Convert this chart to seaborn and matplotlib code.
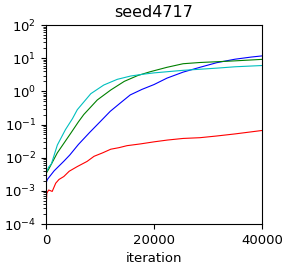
import matplotlib
matplotlib.use("Agg")
import matplotlib.pyplot as plt
import seaborn as sns
import pandas as pd

# iterations and values per series
blue_x = [0, 250, 1500, 3300, 4400, 6000, 8100, 10000, 11900, 13800, 15600, 17800, 20000, 22400, 25400, 28500, 31600, 35000, 38000, 40000]
blue_y = [0.0017, 0.0022, 0.0040, 0.0078, 0.012, 0.025, 0.058, 0.12, 0.25, 0.45, 0.78, 1.15, 1.6, 2.5, 3.8, 5.3, 7.3, 9.3, 10.8, 11.7]

green_x = [0, 500, 2100, 4600, 6000, 7000, 9500, 12000, 14500, 17000, 19300, 22400, 25400, 28500, 31600, 35000, 40000]
green_y = [0.0033, 0.0045, 0.014, 0.055, 0.12, 0.2, 0.55, 1.1, 2.0, 3.0, 3.9, 5.3, 6.8, 7.4, 7.8, 8.3, 9.2]

cyan_x = [0, 500, 1000, 2100, 3600, 4900, 5800, 8300, 10700, 13200, 15700, 18100, 20000, 25400, 31600, 35000, 40000]
cyan_y = [0.0035, 0.0052, 0.0065, 0.024, 0.07, 0.15, 0.28, 0.85, 1.55, 2.3, 2.9, 3.3, 3.6, 4.3, 5.0, 5.5, 6.0]

red_x = [0, 150, 500, 1150, 1800, 2400, 3300, 4300, 5800, 7600, 8900, 10500, 12000, 13500, 15000, 17500, 20000, 22500, 25400, 28500, 31600, 35000, 40000]
red_y = [0.00025, 0.00085, 0.00106, 0.00096, 0.0017, 0.0022, 0.0027, 0.0039, 0.0054, 0.0077, 0.011, 0.014, 0.018, 0.02, 0.023, 0.026, 0.030, 0.034, 0.038, 0.040, 0.045, 0.052, 0.066]

series = [("blue", blue_x, blue_y, "b"),
          ("green", green_x, green_y, "g"),
          ("cyan", cyan_x, cyan_y, "c"),
          ("red", red_x, red_y, "r")]

fig = plt.figure(figsize=(2.9, 2.7), dpi=100)
ax = fig.add_axes([46/290, 1-224/270, (262-46)/290, (224-25)/270])

for name, xs, ys, col in series:
    df = pd.DataFrame({"iteration": xs, "value": ys})
    sns.lineplot(data=df, x="iteration", y="value", color=col, linewidth=0.8, ax=ax)

ax.set_yscale("log")
ax.set_ylim(1e-4, 1e2)
ax.set_xlim(0, 40000)
ax.set_xticks([0, 20000, 40000])
ax.set_xlabel("iteration", fontsize=9.5)
ax.set_ylabel("")
ax.set_title("seed4717", fontsize=11.5)
ax.tick_params(labelsize=9.5)

fig.savefig("out.png", dpi=100)
